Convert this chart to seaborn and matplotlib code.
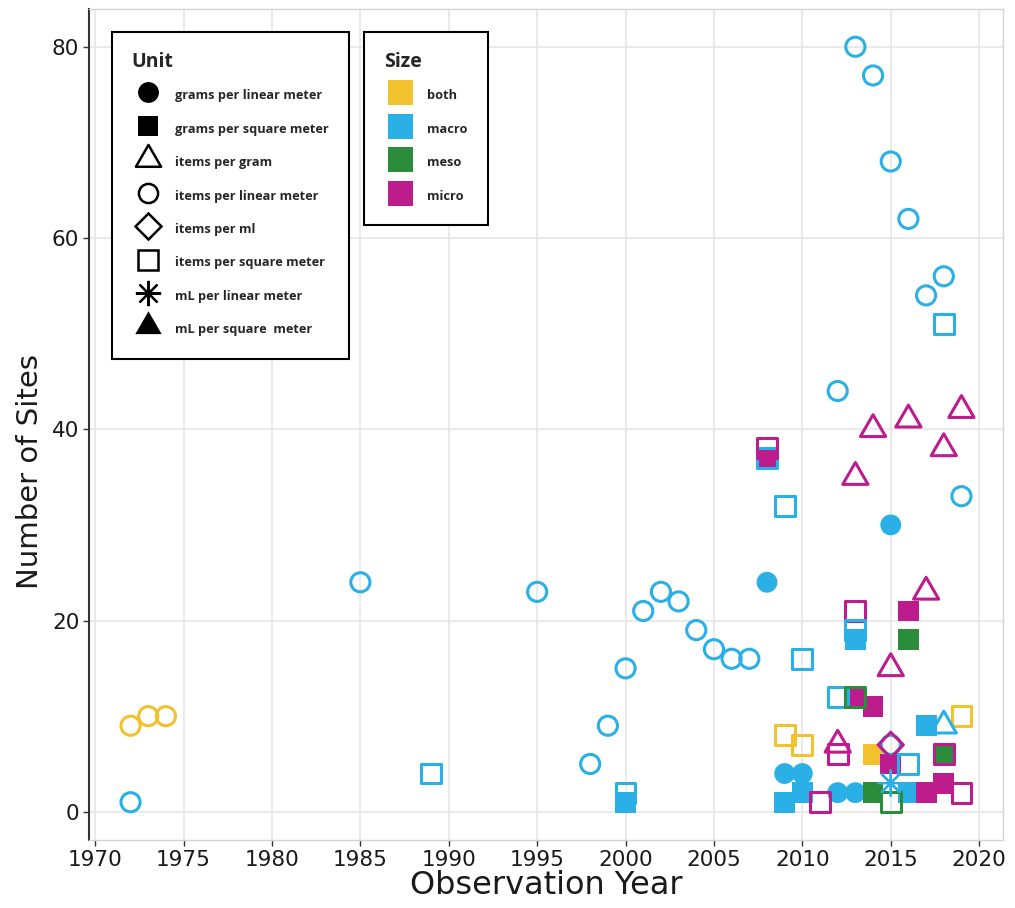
import numpy as np
import pandas as pd
import matplotlib
matplotlib.use("Agg")
import matplotlib.pyplot as plt
from matplotlib.lines import Line2D
from matplotlib.path import Path
import seaborn as sns

# ---- categories -------------------------------------------------------------
SIZE_LEVELS = ["both", "macro", "meso", "micro"]
SIZE_COLORS = ["#F2C12E", "#2AB0E6", "#2B8C3C", "#BC1C8C"]

UNIT_LEVELS = [
    "grams per linear meter",
    "grams per square meter",
    "items per gram",
    "items per linear meter",
    "items per ml",
    "items per square meter",
    "mL per linear meter",
    "mL per square  meter",
]

# ---- observations, one set of arrays per unit -------------------------------
glm_year = [2008, 2009, 2010, 2012, 2013, 2015]
glm_sites = [24, 4, 4, 2, 2, 30]
glm_size = ["macro"] * 6

gsm_year = [2000, 2008, 2009, 2010, 2013, 2013, 2014, 2014, 2014, 2015,
            2016, 2016, 2016, 2017, 2017, 2018, 2018]
gsm_sites = [1, 37, 1, 2, 18, 12, 11, 6, 2, 5,
             21, 18, 2, 9, 2, 6, 3]
gsm_size = ["macro", "micro", "macro", "macro", "macro", "micro", "micro", "both", "meso", "micro",
            "micro", "meso", "macro", "macro", "micro", "meso", "micro"]

isq_year = [1989, 2000, 2008, 2008, 2009, 2009, 2010, 2010, 2011, 2012,
            2012, 2013, 2013, 2013, 2015, 2016, 2018, 2018, 2019, 2019]
isq_sites = [4, 2, 37, 38, 32, 8, 16, 7, 1, 12,
             6, 21, 19, 12, 1, 5, 51, 6, 10, 2]
isq_size = ["macro", "macro", "macro", "micro", "macro", "both", "macro", "both", "micro", "macro",
            "micro", "micro", "macro", "meso", "meso", "macro", "macro", "micro", "both", "micro"]

ilm_year = [1972, 1972, 1973, 1974, 1985, 1995, 1998, 1999, 2000, 2001,
            2002, 2003, 2004, 2005, 2006, 2007, 2012, 2013, 2014, 2015,
            2016, 2017, 2018, 2019, 2015]
ilm_sites = [1, 9, 10, 10, 24, 23, 5, 9, 15, 21,
             23, 22, 19, 17, 16, 16, 44, 80, 77, 68,
             62, 54, 56, 33, 7]
ilm_size = ["macro", "both", "both", "both"] + ["macro"] * 21

ig_year = [2012, 2013, 2014, 2015, 2016, 2017, 2018, 2019, 2018]
ig_sites = [7, 35, 40, 15, 41, 23, 38, 42, 9]
ig_size = ["micro"] * 8 + ["macro"]

iml_year = [2015]
iml_sites = [7]
iml_size = ["micro"]

mllm_year = [2015]
mllm_sites = [3]
mllm_size = ["macro"]

mlsm_year = []
mlsm_sites = []
mlsm_size = []


def unit_frame(unit, years, sites, sizes):
    return pd.DataFrame({"year": years, "sites": sites, "size": sizes, "unit": unit})


frames = {
    "grams per linear meter": unit_frame("grams per linear meter", glm_year, glm_sites, glm_size),
    "grams per square meter": unit_frame("grams per square meter", gsm_year, gsm_sites, gsm_size),
    "items per square meter": unit_frame("items per square meter", isq_year, isq_sites, isq_size),
    "items per linear meter": unit_frame("items per linear meter", ilm_year, ilm_sites, ilm_size),
    "items per gram": unit_frame("items per gram", ig_year, ig_sites, ig_size),
    "items per ml": unit_frame("items per ml", iml_year, iml_sites, iml_size),
    "mL per linear meter": unit_frame("mL per linear meter", mllm_year, mllm_sites, mllm_size),
    "mL per square  meter": unit_frame("mL per square  meter", mlsm_year, mlsm_sites, mlsm_size),
}

# ---- marker styles ----------------------------------------------------------
# equilateral triangle centred on its centroid
TRI = Path([(0, 1), (-0.866, -0.5), (0.866, -0.5), (0, 1)],
           [Path.MOVETO, Path.LINETO, Path.LINETO, Path.CLOSEPOLY])
ASTER = (8, 2, 0)

# unit -> (marker, area, hollow)
UNIT_STYLE = {
    "grams per linear meter": ("o", 225, False),
    "grams per square meter": ("s", 225, False),
    "items per gram": (TRI, 440, True),
    "items per linear meter": ("o", 190, True),
    "items per ml": ("D", 165, True),
    "items per square meter": ("s", 205, True),
    "mL per linear meter": (ASTER, 330, True),
    "mL per square  meter": (TRI, 480, False),
}
HOLLOW_LW = 2.2

palette = dict(zip(SIZE_LEVELS, SIZE_COLORS))

sns.set_theme(style="white")
plt.rcParams["font.family"] = ["DejaVu Sans"]

fig = plt.figure(figsize=(10.15, 9.08), dpi=100)
ax = fig.add_axes([89 / 1015, 68 / 908, 914 / 1015, 831 / 908])

draw_order = [
    "grams per linear meter",
    "grams per square meter",
    "items per square meter",
    "items per linear meter",
    "items per gram",
    "items per ml",
    "mL per linear meter",
]

for unit in draw_order:
    sub = frames[unit]
    if sub.empty:
        continue
    marker, area, hollow = UNIT_STYLE[unit]
    sns.scatterplot(data=sub, x="year", y="sites", hue="size", hue_order=SIZE_LEVELS,
                    palette=palette, marker=marker, s=area, linewidth=0,
                    legend=False, ax=ax, zorder=3)
    coll = ax.collections[-1]
    if hollow:
        cols = coll.get_facecolors()
        coll.set_edgecolors(cols)
        coll.set_facecolors("none")
        coll.set_linewidths(HOLLOW_LW if marker is not ASTER else 1.6)

# ---- axes -------------------------------------------------------------------
ax.set_xlim(1969.65, 2021.35)
ax.set_ylim(-2.95, 83.95)
ax.set_xticks(np.arange(1970, 2021, 5))
ax.set_yticks(np.arange(0, 81, 20))
ax.grid(True, color="#E6E6E6", linewidth=1.2, zorder=0)
ax.set_axisbelow(True)
for side in ["top", "right", "bottom"]:
    ax.spines[side].set_color("#D4D4D4")
    ax.spines[side].set_linewidth(1.0)
ax.spines["left"].set_color("#333333")
ax.spines["left"].set_linewidth(1.5)
ax.tick_params(axis="both", which="major", direction="out", length=4, width=1.0,
               color="#333333", labelsize=15.5, labelcolor="#1A1A1A", pad=3,
               bottom=True, left=True)
ax.set_xlabel("Observation Year", fontsize=23, color="#1A1A1A", labelpad=0)
ax.set_ylabel("Number of Sites", fontsize=21, color="#1A1A1A")
ax.yaxis.set_label_coords(-0.049, 0.443)

# ---- legends ----------------------------------------------------------------
unit_handles = []
for unit in UNIT_LEVELS:
    marker, area, hollow = UNIT_STYLE[unit]
    ms = np.sqrt(area)
    if hollow:
        h = Line2D([], [], linestyle="None", marker=marker, markersize=ms,
                   markerfacecolor="none", markeredgecolor="black",
                   markeredgewidth=1.6 if marker is ASTER else 1.8)
    else:
        h = Line2D([], [], linestyle="None", marker=marker, markersize=ms,
                   markerfacecolor="black", markeredgecolor="black", markeredgewidth=0)
    unit_handles.append(h)

size_handles = [Line2D([], [], linestyle="None", marker="s", markersize=18,
                       markerfacecolor=c, markeredgewidth=0) for c in SIZE_COLORS]

leg_font = {"family": "Open Sans", "weight": "bold", "size": 9.2}
title_font = {"family": "Open Sans", "weight": "bold", "size": 14}
leg_kw = dict(loc="upper left", borderaxespad=0, prop=leg_font,
              title_fontproperties=title_font, frameon=True, fancybox=False,
              framealpha=1, edgecolor="black", handlelength=2.6, handleheight=2.0,
              handletextpad=0.8, labelspacing=1.07, borderpad=1.55)

leg1 = ax.legend(unit_handles, UNIT_LEVELS, title="Unit",
                 bbox_to_anchor=((112 - 89) / 914, (840 - 32) / 831), **leg_kw)
leg1._legend_box.align = "left"
leg1.get_frame().set_linewidth(1.5)
leg1.set_zorder(5)
ax.add_artist(leg1)

leg2 = ax.legend(size_handles, SIZE_LEVELS, title="Size",
                 bbox_to_anchor=((364 - 89) / 914, (840 - 32) / 831), **leg_kw)
leg2._legend_box.align = "left"
leg2.get_frame().set_linewidth(1.5)
leg2.set_zorder(5)

fig.savefig("out.png", dpi=100, facecolor="white")
